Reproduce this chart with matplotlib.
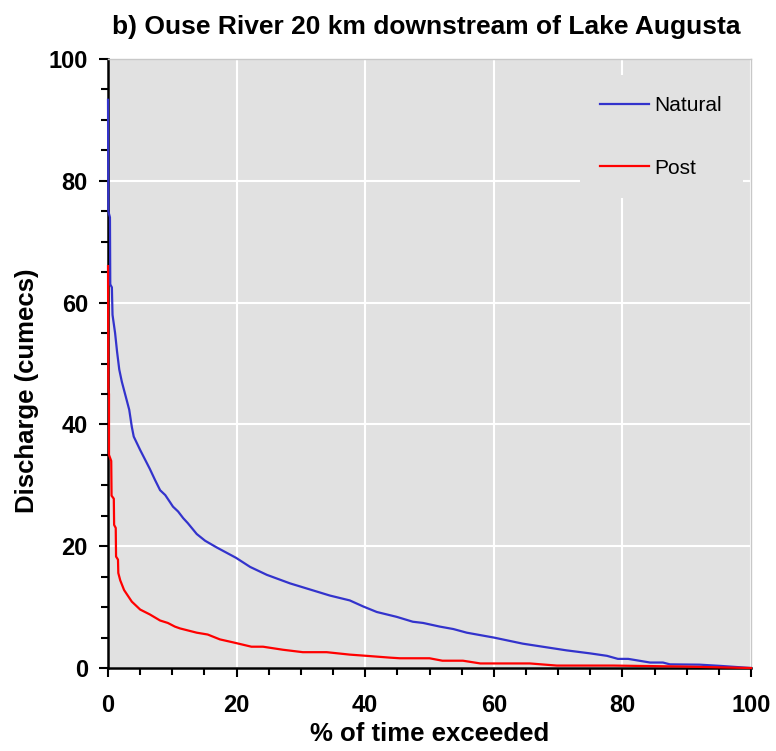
import numpy as np
import matplotlib
matplotlib.use("Agg")
import matplotlib.pyplot as plt
from matplotlib.ticker import MultipleLocator

plt.rcParams['font.family'] = ['Liberation Sans', 'DejaVu Sans']

# flow duration curves
nat_x = [0, 0.05, 0.3, 0.35, 0.6, 0.7, 1.1, 1.4, 1.75, 2.15, 2.65, 2.9, 3.3, 3.7,
         4.0, 5.0, 6.5, 7.3, 8.1, 8.9, 9.6, 10.1, 10.9, 11.7, 12.4, 13.8, 15.1,
         16.9, 19.9, 22.1, 24.7, 28.3, 31.4, 34.5, 37.6, 39.7, 41.8, 44.9, 47.4,
         49.0, 51.6, 53.7, 55.8, 60.0, 64.5, 68.2, 71.3, 75.0, 77.6, 79.3, 80.9,
         84.3, 86.3, 87.4, 92.0, 95.2, 100]
nat_y = [93.3, 75, 74, 63, 62.5, 58, 55, 52, 49, 47, 45, 44, 42.4, 39.6,
         38, 35.8, 32.7, 30.9, 29.2, 28.4, 27.3, 26.5, 25.7, 24.6, 23.8, 22.0, 20.9,
         19.8, 18.1, 16.6, 15.3, 13.9, 12.9, 11.9, 11.1, 10.1, 9.2, 8.4, 7.6,
         7.4, 6.8, 6.4, 5.8, 5.0, 4.0, 3.4, 2.9, 2.4, 2.0, 1.5, 1.5,
         0.9, 0.9, 0.6, 0.55, 0.35, 0.0]

post_x = [0, 0.05, 0.15, 0.15, 0.5, 0.55, 0.9, 0.95, 1.2, 1.25, 1.55, 1.6, 1.9,
          2.5, 3.7, 5.0, 6.5, 8.1, 9.3, 10.4, 11.2, 13.8, 15.5, 17.4, 19.5, 22.3,
          24.1, 27.2, 30.3, 34.0, 37.6, 40.2, 43.9, 45.4, 50, 52, 55.2, 57.9,
          65.6, 69.8, 78.6, 89, 100]
post_y = [66, 46, 45, 35, 34, 28.3, 27.8, 23.5, 23, 18.3, 17.8, 15.6, 14.4,
          12.8, 10.9, 9.6, 8.8, 7.8, 7.4, 6.8, 6.5, 5.8, 5.5, 4.7, 4.2, 3.5,
          3.5, 3.0, 2.6, 2.6, 2.2, 2.0, 1.7, 1.6, 1.6, 1.2, 1.2, 0.75,
          0.75, 0.4, 0.4, 0.25, 0]

fig = plt.figure(figsize=(7.76, 7.51), dpi=100)
ax = fig.add_axes([0.1392, 0.1105, 0.8286, 0.8109])
ax.set_facecolor('#e1e1e1')

ax.plot(nat_x, nat_y, color='#3333cc', lw=1.6, label='Natural', zorder=3, clip_on=False)
ax.plot(post_x, post_y, color='#ff0000', lw=1.6, label='Post', zorder=3, clip_on=False)

ax.set_xlim(0, 100)
ax.set_ylim(0, 100)
ax.xaxis.set_major_locator(MultipleLocator(20))
ax.xaxis.set_minor_locator(MultipleLocator(5))
ax.yaxis.set_major_locator(MultipleLocator(20))
ax.yaxis.set_minor_locator(MultipleLocator(5))
ax.grid(True, which='major', color='white', lw=1.5)
ax.set_axisbelow(True)

ax.tick_params(which='major', direction='out', length=6.5, width=1.5, labelsize=17)
ax.tick_params(which='minor', direction='out', length=5, width=1.5)
ax.tick_params(axis='x', which='major', pad=12)
ax.tick_params(axis='y', which='major', pad=8)
for lab in ax.get_xticklabels() + ax.get_yticklabels():
    lab.set_fontweight('bold')

for s in ['left', 'bottom']:
    ax.spines[s].set_linewidth(1.8)
    ax.spines[s].set_color('black')
for s in ['top', 'right']:
    ax.spines[s].set_linewidth(1.0)
    ax.spines[s].set_color('#c8c8c8')

ax.set_xlabel('% of time exceeded', fontsize=18.5, fontweight='bold', labelpad=4)
ax.set_ylabel('Discharge (cumecs)', fontsize=18.5, fontweight='bold')
ax.yaxis.set_label_coords(-0.108, 0.456)
ax.set_title('b) Ouse River 20 km downstream of Lake Augusta', fontsize=19,
             fontweight='bold', pad=18, x=0.495)

leg = ax.legend(loc='upper right', bbox_to_anchor=(0.9876, 0.9737), borderaxespad=0,
                fontsize=15, frameon=True, fancybox=False, facecolor='#e1e1e1',
                edgecolor='none', framealpha=1, handlelength=2.35, handletextpad=0.25,
                labelspacing=2.1, borderpad=1.0)

fig.savefig('out.png', dpi=100)
